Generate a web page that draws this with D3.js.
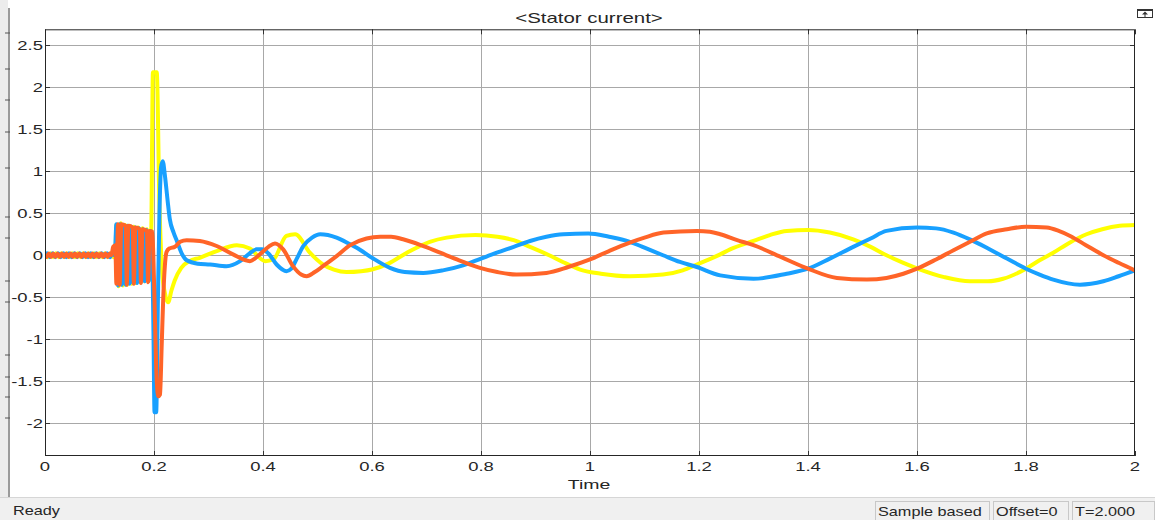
<!DOCTYPE html>
<html>
<head>
<meta charset="utf-8">
<script src="https://cdn.jsdelivr.net/npm/d3@7"></script>
<style>
  html, body { margin: 0; padding: 0; background: #fff; }
  svg { display: block; font-family: "Liberation Sans", Arial, sans-serif; }
</style>
</head>
<body>
<div id="chart"></div>
<script>
// tick labels
const xTicks = [0, 0.2, 0.4, 0.6, 0.8, 1, 1.2, 1.4, 1.6, 1.8, 2];
const yTicks = [-2, -1.5, -1, -0.5, 0, 0.5, 1, 1.5, 2, 2.5];

// phase A (yellow) [time, current]
const phaseA = [
  [0,0.02],[0.005,-0.025],[0.01,0.025],[0.015,-0.025],[0.02,0.025],[0.025,-0.025],[0.03,0.025],
  [0.035,-0.025],[0.04,0.025],[0.045,-0.025],[0.05,0.025],[0.055,-0.025],[0.06,0.025],[0.065,-0.025],
  [0.07,0.025],[0.075,-0.025],[0.08,0.025],[0.085,-0.025],[0.09,0.025],[0.095,-0.025],[0.1,0.025],
  [0.105,-0.025],[0.11,0.025],[0.115,-0.025],[0.12,0.025],[0.125,-0.025],
  [0.129,0.0],[0.131,0.36],[0.135,-0.37],[0.139,0.38],[0.143,-0.36],[0.147,0.36],[0.151,-0.35],
  [0.155,0.35],[0.159,-0.34],[0.163,0.34],[0.167,-0.33],[0.171,0.33],[0.175,-0.32],[0.179,0.32],
  [0.183,-0.31],[0.187,0.31],[0.191,-0.3],[0.195,0.3],
  [0.198,2.18],[0.205,2.18],[0.21,0.6],[0.215,-0.2],[0.22,-0.45],[0.226,-0.56],[0.232,-0.42],
  [0.238,-0.3],[0.25,-0.15],[0.265,-0.07],[0.284,-0.03],[0.315,0.05],[0.352,0.12],[0.376,0.08],
  [0.404,-0.07],[0.419,-0.05],[0.443,0.23],[0.459,0.25],[0.486,0.03],[0.51,-0.11],[0.53,-0.17],
  [0.553,-0.2],[0.58,-0.19],[0.6,-0.17],[0.63,-0.1],[0.664,0.03],[0.706,0.16],[0.737,0.21],
  [0.79,0.24],[0.83,0.22],[0.86,0.18],[0.89,0.1],[0.925,0.0],[0.95,-0.08],[0.982,-0.17],
  [1.02,-0.22],[1.073,-0.25],[1.134,-0.23],[1.17,-0.18],[1.196,-0.11],[1.239,0.01],[1.257,0.07],
  [1.3,0.17],[1.33,0.24],[1.361,0.29],[1.4,0.3],[1.44,0.27],[1.483,0.19],[1.515,0.1],[1.544,0.0],
  [1.575,-0.09],[1.606,-0.17],[1.65,-0.26],[1.697,-0.31],[1.73,-0.31],[1.758,-0.28],[1.8,-0.16],
  [1.825,-0.06],[1.85,0.03],[1.88,0.15],[1.911,0.25],[1.94,0.31],[1.972,0.35],[2.0,0.36]
];

// phase B (blue)
const phaseB = [
  [0,-0.02],[0.004,0.025],[0.009,-0.025],[0.014,0.025],[0.019,-0.025],[0.024,0.025],[0.029,-0.025],
  [0.034,0.025],[0.039,-0.025],[0.044,0.025],[0.049,-0.025],[0.054,0.025],[0.059,-0.025],[0.064,0.025],
  [0.069,-0.025],[0.074,0.025],[0.079,-0.025],[0.084,0.025],[0.089,-0.025],[0.094,0.025],[0.099,-0.025],
  [0.104,0.025],[0.109,-0.025],[0.114,0.025],[0.119,-0.025],[0.124,0.02],
  [0.128,0.0],[0.131,0.37],[0.134,-0.36],[0.1375,0.37],[0.141,-0.35],[0.1445,0.36],[0.148,-0.35],
  [0.1515,0.35],[0.155,-0.34],[0.1585,0.34],[0.162,-0.33],[0.1655,0.33],[0.169,-0.33],[0.1725,0.32],
  [0.176,-0.32],[0.1795,0.31],[0.183,-0.31],[0.1865,0.3],[0.19,-0.31],[0.1935,0.29],[0.196,0.2],
  [0.199,-0.9],[0.201,-1.87],[0.204,-1.87],[0.207,-0.6],[0.21,0.5],[0.213,1.05],[0.216,1.12],
  [0.22,0.95],[0.225,0.65],[0.229,0.43],[0.236,0.27],[0.242,0.17],[0.251,0.02],[0.26,-0.06],
  [0.28,-0.1],[0.303,-0.11],[0.333,-0.13],[0.358,-0.07],[0.375,0.02],[0.388,0.07],[0.398,0.07],
  [0.41,0.02],[0.425,-0.11],[0.443,-0.19],[0.452,-0.16],[0.462,-0.04],[0.474,0.11],[0.49,0.21],
  [0.505,0.25],[0.535,0.21],[0.56,0.13],[0.572,0.09],[0.6,-0.03],[0.633,-0.15],[0.66,-0.2],
  [0.694,-0.21],[0.73,-0.18],[0.767,-0.12],[0.8,-0.04],[0.829,0.03],[0.86,0.1],[0.89,0.17],
  [0.92,0.22],[0.951,0.25],[0.997,0.26],[1.035,0.22],[1.073,0.16],[1.1,0.09],[1.134,0.0],
  [1.165,-0.08],[1.196,-0.14],[1.239,-0.24],[1.3,-0.28],[1.361,-0.22],[1.4,-0.16],[1.44,-0.04],
  [1.483,0.1],[1.515,0.2],[1.544,0.29],[1.6,0.33],[1.635,0.32],[1.667,0.27],[1.7,0.18],
  [1.728,0.09],[1.765,-0.04],[1.8,-0.16],[1.825,-0.23],[1.85,-0.29],[1.899,-0.35],[1.942,-0.31],
  [1.97,-0.25],[2.0,-0.18]
];

// phase C (orange)
const phaseC = [
  [0,0.0],[0.003,-0.02],[0.007,0.02],[0.011,-0.02],[0.015,0.02],[0.019,-0.02],[0.023,0.02],
  [0.027,-0.02],[0.031,0.02],[0.035,-0.02],[0.039,0.02],[0.043,-0.02],[0.047,0.02],[0.051,-0.02],
  [0.055,0.02],[0.059,-0.02],[0.063,0.02],[0.067,-0.02],[0.071,0.02],[0.075,-0.02],[0.079,0.02],
  [0.083,-0.02],[0.087,0.02],[0.091,-0.02],[0.095,0.02],[0.099,-0.02],[0.103,0.02],[0.107,-0.02],
  [0.111,0.02],[0.115,-0.02],[0.119,0.02],[0.122,0.0],
  [0.125,0.1],[0.129,0.12],[0.131,-0.34],[0.134,0.37],[0.137,-0.35],[0.14,0.37],[0.148,0.35],
  [0.15,-0.35],[0.153,0.35],[0.161,0.33],[0.163,-0.34],[0.166,0.33],[0.174,0.31],[0.176,-0.33],
  [0.179,0.31],[0.187,0.29],[0.189,-0.32],[0.192,0.29],[0.197,0.28],[0.2,-0.3],[0.205,-1.5],
  [0.208,-1.68],[0.211,-1.66],[0.214,-1.1],[0.217,-0.5],[0.22,-0.12],[0.223,0.04],[0.228,0.08],
  [0.233,0.09],[0.238,0.1],[0.248,0.16],[0.26,0.18],[0.284,0.17],[0.315,0.11],[0.345,0.01],
  [0.376,-0.07],[0.385,-0.04],[0.394,0.01],[0.41,0.1],[0.422,0.14],[0.437,0.07],[0.455,-0.13],
  [0.47,-0.23],[0.48,-0.25],[0.495,-0.2],[0.51,-0.13],[0.535,-0.01],[0.56,0.12],[0.59,0.2],
  [0.615,0.22],[0.635,0.22],[0.657,0.19],[0.69,0.12],[0.725,0.03],[0.76,-0.06],[0.798,-0.15],
  [0.83,-0.2],[0.865,-0.23],[0.92,-0.21],[0.96,-0.14],[1.0,-0.05],[1.035,0.05],[1.073,0.15],
  [1.1,0.21],[1.135,0.27],[1.196,0.29],[1.22,0.28],[1.239,0.25],[1.27,0.18],[1.3,0.12],
  [1.35,-0.02],[1.4,-0.16],[1.453,-0.27],[1.508,-0.29],[1.544,-0.27],[1.575,-0.22],[1.6,-0.16],
  [1.635,-0.05],[1.667,0.06],[1.7,0.17],[1.728,0.26],[1.765,0.31],[1.8,0.34],[1.838,0.33],
  [1.86,0.29],[1.881,0.23],[1.91,0.12],[1.942,0.0],[1.97,-0.09],[2.0,-0.18]
];

const seriesList = [
  { name: "a", values: phaseA, color: "#ffff00" },
  { name: "b", values: phaseB, color: "#18a0ff" },
  { name: "c", values: phaseC, color: "#ff6428" }
];

const width = 1155, height = 520,
    plotLeft = 45, plotRight = 1135, plotTop = 29.3, plotBottom = 456,
    stretch = 1.42;

const svg = d3.select("#chart").append("svg")
    .attr("width", width)
    .attr("height", height);

const x = d3.scaleLinear().domain([0, 2]).range([plotLeft, plotRight]);
const y = d3.scaleLinear().domain([-2.39, 2.69]).range([plotBottom, plotTop]);

// wide looking text, the screenshot is stretched sideways
function wideText(g, px, py, str, size, anchor, k) {
  return g.append("text")
      .attr("transform", "translate(" + px + "," + py + ") scale(" + (k || stretch) + ",1)")
      .attr("text-anchor", anchor)
      .attr("font-size", size)
      .attr("fill", "#262626")
      .text(str);
}

// window strip on the left
svg.append("rect").attr("x", 0).attr("y", 0).attr("width", 8).attr("height", 497).attr("fill", "#ececec");
svg.append("line").attr("x1", 9).attr("x2", 9).attr("y1", 8).attr("y2", 497)
    .attr("stroke", "#9a9a9a").attr("stroke-width", 2);
const frameDashes = [33, 69, 100, 132, 168, 217, 238, 281, 302, 355, 377, 397, 418];
svg.append("g").selectAll("line").data(frameDashes).enter().append("line")
    .attr("x1", 5).attr("x2", 10).attr("y1", d => d).attr("y2", d => d)
    .attr("stroke", "#555").attr("stroke-width", 1);

// grid
const grid = svg.append("g").attr("class", "grid");
grid.selectAll(".vx").data(xTicks.slice(1, -1)).enter().append("line")
    .attr("x1", d => Math.round(x(d)) + 0.5).attr("x2", d => Math.round(x(d)) + 0.5)
    .attr("y1", plotTop).attr("y2", plotBottom)
    .attr("stroke", "#a8a8a8");
grid.selectAll(".hy").data(yTicks).enter().append("line")
    .attr("x1", plotLeft).attr("x2", plotRight)
    .attr("y1", d => Math.round(y(d)) + 0.5).attr("y2", d => Math.round(y(d)) + 0.5)
    .attr("stroke", "#a8a8a8");

// small inside ticks
const ticks = svg.append("g").attr("stroke", "#333");
xTicks.forEach(d => {
  const px = Math.round(x(d)) + 0.5;
  ticks.append("line").attr("x1", px).attr("x2", px).attr("y1", plotTop).attr("y2", plotTop + 5);
  ticks.append("line").attr("x1", px).attr("x2", px).attr("y1", plotBottom).attr("y2", plotBottom - 5);
});
yTicks.forEach(d => {
  const py = Math.round(y(d)) + 0.5;
  ticks.append("line").attr("x1", plotLeft).attr("x2", plotLeft + 5).attr("y1", py).attr("y2", py);
  ticks.append("line").attr("x1", plotRight).attr("x2", plotRight - 5).attr("y1", py).attr("y2", py);
});

// curves
svg.append("defs").append("clipPath").attr("id", "plot")
  .append("rect").attr("x", plotLeft).attr("y", plotTop)
    .attr("width", plotRight - plotLeft).attr("height", plotBottom - plotTop);

const line = d3.line()
    .x(d => x(d[0]))
    .y(d => y(d[1]))
    .curve(d3.curveMonotoneX);

svg.append("g").attr("clip-path", "url(#plot)")
  .selectAll("path").data(seriesList).enter().append("path")
    .attr("d", d => line(d.values))
    .attr("fill", "none")
    .attr("stroke", d => d.color)
    .attr("stroke-width", 4)
    .attr("stroke-linejoin", "round")
    .attr("stroke-linecap", "round");

// frame
svg.append("rect")
    .attr("x", plotLeft + 0.5).attr("y", plotTop + 0.5)
    .attr("width", plotRight - plotLeft - 1).attr("height", plotBottom - plotTop - 1)
    .attr("fill", "none").attr("stroke", "#262626");

// tick labels
const labels = svg.append("g");
xTicks.forEach(d => wideText(labels, x(d), 471, String(d), 13, "middle"));
yTicks.forEach(d => wideText(labels, 43, y(d) + 4.5, String(d), 13, "end"));

// titles
wideText(svg, 589, 23, "<Stator current>", 14, "middle", 1.46);
wideText(svg, 589, 489, "Time", 13, "middle", 1.5);

// restore button top right
const btn = svg.append("g");
btn.append("rect").attr("x", 1137.5).attr("y", 9.5).attr("width", 15).attr("height", 8)
    .attr("fill", "#fff").attr("stroke", "#333");
btn.append("line").attr("x1", 1137.5).attr("x2", 1152.5).attr("y1", 10).attr("y2", 10)
    .attr("stroke", "#333").attr("stroke-width", 2);
btn.append("path").attr("d", "M1145,11.5 L1142,14.5 L1148,14.5 Z M1144.5,14 L1144.5,17 L1145.5,17 L1145.5,14 Z")
    .attr("fill", "#333");

// status bar
const status = svg.append("g");
status.append("rect").attr("x", 0).attr("y", 497).attr("width", width).attr("height", 23).attr("fill", "#f0f0f0");
status.append("line").attr("x1", 0).attr("x2", width).attr("y1", 497.5).attr("y2", 497.5).attr("stroke", "#d6d6d6");
wideText(status, 13, 515, "Ready", 13, "start", 1.25);
const boxes = [
  { label: "Sample based", x0: 875, x1: 990 },
  { label: "Offset=0", x0: 993, x1: 1069 },
  { label: "T=2.000", x0: 1072, x1: 1155 }
];
boxes.forEach(b => {
  status.append("rect").attr("x", b.x0 + 0.5).attr("y", 501.5).attr("width", b.x1 - b.x0 - 1).attr("height", 20)
      .attr("fill", "#f0f0f0").attr("stroke", "#c8c8c8");
  wideText(status, b.x0 + 3, 516, b.label, 13, "start", 1.25);
});
</script>
</body>
</html>
